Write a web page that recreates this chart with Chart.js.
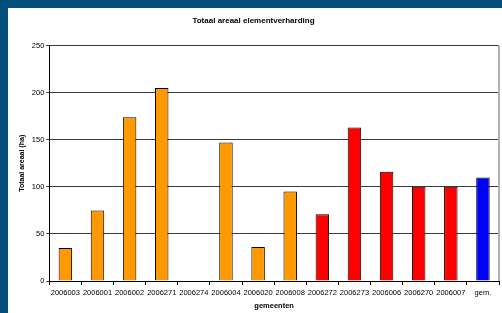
<!DOCTYPE html>
<html>
<head>
<meta charset="utf-8">
<script src="https://cdn.jsdelivr.net/npm/chart.js@4"></script>
<style>
  html, body { margin: 0; padding: 0; }
  body { background: #034d7b; width: 502px; height: 313px; overflow: hidden; }
  #wrap { position: absolute; left: 8px; top: 8px; width: 494px; height: 305px; background: #fff; }
</style>
</head>
<body>
<div id="wrap"><canvas id="arealChart" width="494" height="305"></canvas></div>
<script>
// Totaal areaal elementverharding per gemeente (ha)
const gemeenten = ['2006003', '2006001', '2006002', '2006271', '2006274', '2006004', '2006020',
    '2006008', '2006272', '2006273', '2006006', '2006270', '2006007', 'gem.'];
const areaal = [35, 75, 174, 205, null, 147, 36, 95, 71, 163, 116, 100, 100, 110];
const groep = ['a', 'a', 'a', 'a', 'a', 'a', 'a', 'a', 'b', 'b', 'b', 'b', 'b', 'gem'];
const yTicks = [0, 50, 100, 150, 200, 250];

const groepKleur = { a: '#FF9900', b: '#FF0000', gem: '#0000FF' };

// rechterrand van het plotvlak
const randPlugin = {
    id: 'rand',
    afterDraw(chart) {
        const a = chart.chartArea;
        const c = chart.ctx;
        c.save();
        c.strokeStyle = '#b0b0b0';
        c.lineWidth = 2;
        c.beginPath();
        c.moveTo(a.right, a.top);
        c.lineTo(a.right, a.bottom);
        c.stroke();
        c.restore();
    }
};

const ctx = document.getElementById('arealChart').getContext('2d');
const arealChart = new Chart(ctx, {
    type: 'bar',
    data: {
        labels: gemeenten,
        datasets: [{
            data: areaal,
            backgroundColor: groep.map(g => groepKleur[g]),
            borderColor: '#000',
            borderWidth: 1,
            barPercentage: 0.42,
            categoryPercentage: 1
        }]
    },
    plugins: [randPlugin],
    options: {
        responsive: false,
        animation: false,
        layout: { padding: { left: 0, right: 3, top: 0, bottom: 0 } },
        plugins: {
            legend: { display: false },
            tooltip: { enabled: false },
            title: {
                display: true,
                text: 'Totaal areaal elementverharding',
                color: '#000',
                font: { family: 'Liberation Sans, Arial, sans-serif', size: 8, weight: 'bold', lineHeight: 1.2 },
                padding: { top: 8, bottom: 20 }
            }
        },
        scales: {
            y: {
                min: 0,
                max: 250,
                afterBuildTicks: s => { s.ticks = yTicks.map(v => ({ value: v })); },
                afterFit: s => { s.width = 41.3; },
                ticks: {
                    color: '#000',
                    padding: 2,
                    font: { family: 'Liberation Sans, Arial, sans-serif', size: 7.5 }
                },
                grid: { color: '#3a3a3a', lineWidth: 1, tickLength: 3 },
                border: { color: '#000', width: 1 },
                title: {
                    display: true,
                    text: 'Totaal areaal (ha)',
                    color: '#000',
                    padding: { top: 10, bottom: 0 },
                    font: { family: 'Liberation Sans, Arial, sans-serif', size: 7, weight: 'bold' }
                }
            },
            x: {
                afterFit: s => { s.height = 32; },
                ticks: {
                    color: '#000',
                    maxRotation: 0,
                    autoSkip: false,
                    padding: 3,
                    font: { family: 'Liberation Sans, Arial, sans-serif', size: 7.5 }
                },
                grid: { drawOnChartArea: false, color: '#000', tickLength: 4, offset: true },
                border: { color: '#000', width: 1 },
                title: {
                    display: true,
                    text: 'gemeenten',
                    color: '#000',
                    padding: { top: 0, bottom: 3 },
                    font: { family: 'Liberation Sans, Arial, sans-serif', size: 7.5, weight: 'bold' }
                }
            }
        }
    }
});
</script>
</body>
</html>
